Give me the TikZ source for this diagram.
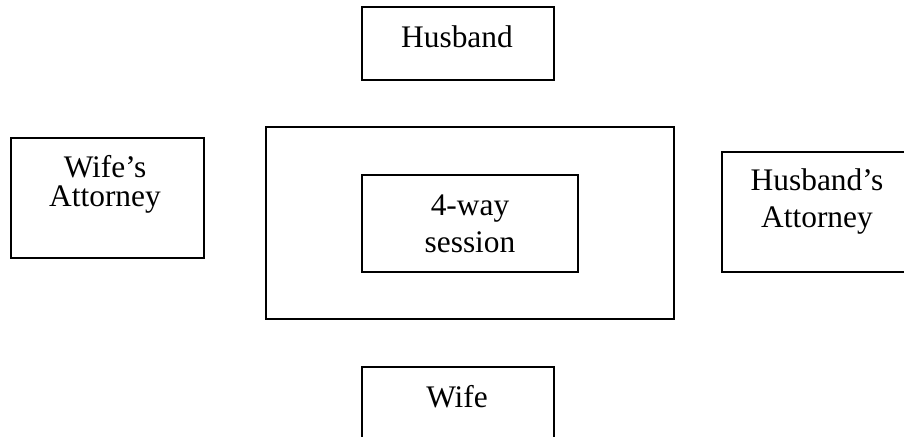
\documentclass[tikz,border=0pt]{standalone}
\usepackage{fontspec}
\setmainfont{Liberation Serif}
\usepackage{tikz}

\begin{document}
\begin{tikzpicture}[x=0.5pt, y=-0.5pt,
    box/.style={draw, line width=1.1pt, rectangle, inner sep=0pt, anchor=north west},
    txt/.style={font=\fontsize{15.7}{18.5}\selectfont, align=center, inner sep=0pt, anchor=base}]
    \useasboundingbox (0,0) rectangle (904,436);
    \clip (0,0) rectangle (904,436);

    \node[box, minimum width=96pt, minimum height=36.5pt] (husband) at (361,6) {};
    \node[box, minimum width=96.5pt, minimum height=60pt] (wifeatty) at (10,137) {};
    \node[box, minimum width=204pt, minimum height=96pt] (outer) at (265,126) {};
    \node[box, minimum width=108pt, minimum height=48.5pt] (session) at (361,174) {};
    \node[box, minimum width=96.5pt, minimum height=60pt] (husbandatty) at (721,151) {};
    \node[box, minimum width=96pt, minimum height=36.5pt] (wife) at (361,366) {};

    \node[txt] (husbandtxt) at (457,47) {Husband};
    \node[txt] (wifeattytxt) at (105,206) {Wife’s\\[-4pt]Attorney};
    \node[txt] (sessiontxt) at (470,252) {4-way\\session};
    \node[txt] (husbandattytxt) at (817,227) {Husband’s\\Attorney};
    \node[txt] (wifetxt) at (457,407) {Wife};
\end{tikzpicture}
\end{document}
